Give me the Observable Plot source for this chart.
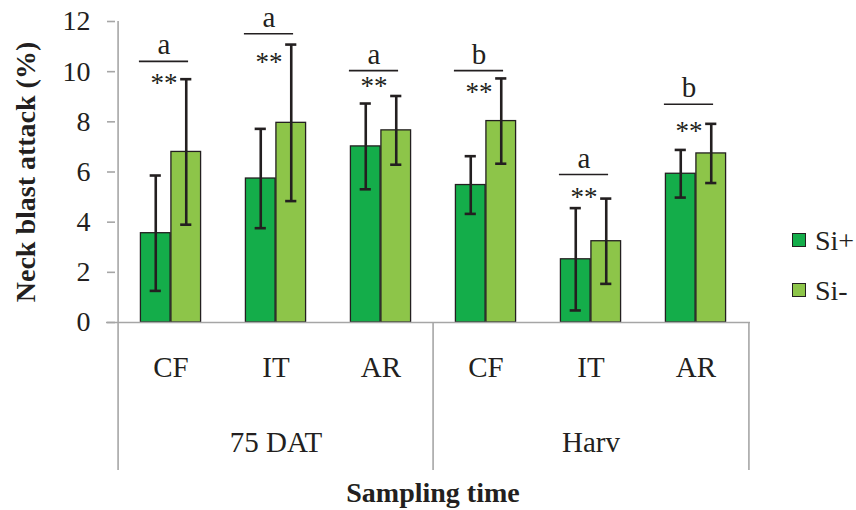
<!DOCTYPE html>
<html><head><meta charset="utf-8">
<script src="https://cdn.jsdelivr.net/npm/d3@7"></script>
<script src="https://cdn.jsdelivr.net/npm/@observablehq/plot@0.6"></script>
<style>
body{margin:0;background:#fff;}
#wrap{position:relative;width:856px;height:510px;font-family:"Liberation Serif",serif;color:#231f20;background:#fff;}
#wrap svg{display:block;}
.sw{position:absolute;left:792px;width:12px;height:12px;border:1.6px solid #231f20;}
.lt{position:absolute;left:815px;font-size:28px;line-height:28px;white-space:nowrap;}
</style></head><body><div id="wrap"></div>
<script>
// ---- data ----
const groups = ["CF", "IT", "AR", "CF", "IT", "AR"];
const times = ["75 DAT", "Harv"];
const series = ["Si+", "Si-"];
const siPlus = [3.56, 5.74, 7.02, 5.48, 2.52, 5.93];
const siPlusErr = [2.30, 1.98, 1.71, 1.15, 2.04, 0.95];
const siMinus = [6.80, 7.96, 7.66, 8.03, 3.24, 6.74];
const siMinusErr = [2.90, 3.12, 1.37, 1.70, 1.70, 1.18];
const letters = ["a", "a", "a", "b", "a", "b"];
const letterLineY = [10.41, 11.51, 10.04, 10.04, 5.90, 8.70];
const sig = ["**", "**", "**", "**", "**", "**"];
const sigY = [9.69, 10.53, 9.57, 9.32, 5.16, 7.79];
const yTicks = [0, 2, 4, 6, 8, 10, 12];

// ---- layout ----
const W = 856, H = 510;
const mL = 115, mR = 106, mT = 21, mB = 188;
const bw = (W - mL - mR) / groups.length;
const barW = 30.5, cap = 12;
const ink = "#231f20", gray = "#a6a6a6";
const c1 = "#14ad4a", c2 = "#8dc549";
const serif = "'Liberation Serif', 'Times New Roman', serif";

const rows = groups.map((g, i) => ({
  i, g,
  plus: siPlus[i], plusErr: siPlusErr[i],
  minus: siMinus[i], minusErr: siMinusErr[i],
  letter: letters[i], lineY: letterLineY[i],
  sig: sig[i], sigY: sigY[i]
}));
const capsPlus = rows.flatMap(d => [{i: d.i, y: d.plus + d.plusErr}, {i: d.i, y: d.plus - d.plusErr}]);
const capsMinus = rows.flatMap(d => [{i: d.i, y: d.minus + d.minusErr}, {i: d.i, y: d.minus - d.minusErr}]);

const chart = Plot.plot({
  width: W, height: H,
  marginTop: mT, marginBottom: mB, marginLeft: mL, marginRight: mR,
  x: {type: "band", domain: d3.range(groups.length), padding: 0, axis: null},
  y: {domain: [0, 12], axis: null},
  style: {fontFamily: serif, color: ink, background: "#fff", overflow: "visible"},
  marks: [
    // bars
    Plot.barY(rows, {x: "i", y: "plus", fill: c1, stroke: ink, strokeWidth: 1.3,
      insetLeft: bw / 2 - barW, insetRight: bw / 2}),
    Plot.barY(rows, {x: "i", y: "minus", fill: c2, stroke: ink, strokeWidth: 1.3,
      insetLeft: bw / 2, insetRight: bw / 2 - barW}),
    // error bars
    Plot.ruleX(rows, {x: "i", y1: d => d.plus - d.plusErr, y2: d => d.plus + d.plusErr,
      dx: -barW / 2, stroke: ink, strokeWidth: 2.6}),
    Plot.ruleX(rows, {x: "i", y1: d => d.minus - d.minusErr, y2: d => d.minus + d.minusErr,
      dx: barW / 2, stroke: ink, strokeWidth: 2.6}),
    Plot.tickY(capsPlus, {x: "i", y: "y", stroke: ink, strokeWidth: 2.6,
      insetLeft: bw / 2 - barW / 2 - cap / 2, insetRight: bw / 2 + barW / 2 - cap / 2}),
    Plot.tickY(capsMinus, {x: "i", y: "y", stroke: ink, strokeWidth: 2.6,
      insetLeft: bw / 2 + barW / 2 - cap / 2, insetRight: bw / 2 - barW / 2 - cap / 2}),
    // baseline and separators
    Plot.ruleY([0], {stroke: gray, strokeWidth: 1.6, insetLeft: -9}),
    Plot.ruleX([0], {x: d => d, dx: -bw / 2, stroke: gray, strokeWidth: 1.6, insetBottom: -148}),
    Plot.ruleX([3], {x: d => d, dx: -bw / 2, stroke: gray, strokeWidth: 1.6, insetTop: H - mT - mB, insetBottom: -148}),
    Plot.ruleX([5], {x: d => d, dx: bw / 2, stroke: gray, strokeWidth: 1.6, insetTop: H - mT - mB, insetBottom: -148}),
    // y axis
    Plot.axisY(yTicks, {tickSize: 8, tickPadding: 17, stroke: gray, strokeWidth: 1.6,
      fill: ink, fontSize: 28, fontFamily: serif, label: null}),
    Plot.text(["Neck blast attack (%)"], {frameAnchor: "left", textAnchor: "middle", rotate: -90, dx: -89,
      fontSize: 28, fontWeight: "bold", fontFamily: serif, fill: ink}),
    // x axis: category labels, time labels, title
    Plot.axisX(d3.range(groups.length), {tickSize: 0, tickPadding: 34, tickFormat: i => groups[i],
      fontSize: 29, fontFamily: serif, fill: ink, label: null}),
    Plot.text(times, {x: (d, i) => i * 3 + 1, frameAnchor: "bottom", lineAnchor: "bottom",
      dy: 129, fontSize: 29, fontFamily: serif, fill: ink}),
    Plot.text(["Sampling time"], {frameAnchor: "bottom", textAnchor: "middle", lineAnchor: "bottom", dy: 179,
      fontSize: 28, fontWeight: "bold", fontFamily: serif, fill: ink}),
    // significance annotations
    Plot.tickY(rows, {x: "i", y: "lineY", stroke: ink, strokeWidth: 1.6,
      insetLeft: bw / 2 - 32, insetRight: bw / 2 - 18}),
    Plot.text(rows, {x: "i", y: "lineY", text: "letter", dx: -7, dy: -7, lineAnchor: "bottom",
      fontSize: 29, fontFamily: serif, fill: ink}),
    Plot.text(rows, {x: "i", y: "sigY", text: "sig", dx: -7, dy: 4, fontSize: 27, fontFamily: serif, fill: ink})
  ]
});

const wrap = document.getElementById("wrap");
wrap.appendChild(chart);
// legend
const legendTop = [233, 283];
series.forEach((s, k) => {
  const sw = document.createElement("div");
  sw.className = "sw";
  sw.style.top = legendTop[k] + "px";
  sw.style.background = k === 0 ? c1 : c2;
  wrap.appendChild(sw);
  const t = document.createElement("div");
  t.className = "lt";
  t.style.top = (legendTop[k] - 6) + "px";
  t.textContent = s;
  wrap.appendChild(t);
});
</script>
</body></html>
